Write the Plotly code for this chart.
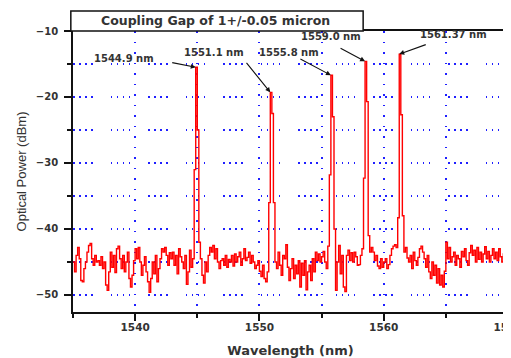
import numpy as np
import plotly.graph_objects as go

# Optical power (dBm), sampled every 0.125 nm from 1535 nm; one row per nm
power_rows = [
    [-45, -46.5, -44, -42.8, -44.5, -47.8, -48, -46],            # 1535
    [-45, -43.5, -42.5, -42.2, -44.5, -45.5, -44, -45],          # 1536
    [-44.8, -45.5, -44.2, -46, -45, -48.5, -49.3, -46.5],        # 1537
    [-43.5, -45.8, -44, -46.6, -43, -42.6, -44.5, -46],          # 1538
    [-44, -46.5, -45, -43.5, -47.5, -48.8, -47, -44.8],          # 1539
    [-43, -44.5, -42.8, -45, -47, -45.5, -44.2, -46.5],          # 1540
    [-48, -49.6, -47.5, -45, -46.8, -44, -48, -46],              # 1541
    [-44.5, -43, -43.5, -42.8, -44, -45.5, -43.6, -44.5],        # 1542
    [-43.5, -45.5, -44, -46.8, -43, -44.2, -45, -46],            # 1543
    [-44, -48.4, -46.5, -43.2, -45.8, -44.5, -31, -15.5],        # 1544
    [-25, -42, -44.5, -47, -48.2, -45, -46.5, -44],              # 1545
    [-42.8, -43.5, -42.5, -44.5, -43, -45, -46, -44.8],          # 1546
    [-44.5, -45.5, -44, -45.8, -44.6, -45, -44, -45.6],          # 1547
    [-43.8, -45, -44.2, -43.5, -45.5, -44.5, -43, -44.8],        # 1548
    [-44.3, -43.5, -45.2, -44, -45, -46, -45.5, -44.8],          # 1549
    [-46.4, -47.2, -45.5, -47.5, -48, -46.5, -36, -19.3],        # 1550
    [-22.5, -36, -45, -46, -43.5, -45.5, -47, -44],              # 1551
    [-44.5, -42.4, -45.8, -47.8, -46, -44.5, -47.5, -45.5],      # 1552
    [-46.8, -44.8, -48.8, -45.2, -47, -44.8, -49.2, -46.5],      # 1553
    [-45.5, -47.8, -44.5, -46.5, -43.5, -44.8, -43.8, -45],      # 1554
    [-44.2, -43.4, -45, -46, -42.6, -31.8, -16.7, -23],          # 1555
    [-40, -49.3, -45, -42.5, -46.8, -44, -48.8, -49.5],          # 1556
    [-44, -43.2, -44.8, -43.6, -45, -43.5, -44.2, -45.5],        # 1557
    [-45.4, -44, -43, -32.3, -14.6, -20.7, -41, -43.5],          # 1558
    [-42.8, -43.5, -44.8, -44, -45.6, -46, -44.5, -45.8],        # 1559
    [-45, -44.5, -46, -45.4, -44, -43, -42.6, -42.4],            # 1560
    [-42.8, -38.3, -13.5, -22.7, -38, -43.5, -42.8, -44.4],      # 1561
    [-45, -44, -46, -43.5, -44.8, -45.5, -44.3, -43],            # 1562
    [-42.6, -43.5, -44.5, -45.8, -44, -46.5, -47.5, -45],        # 1563
    [-47, -45.5, -48.2, -46, -48.5, -47, -48.8, -46.4],          # 1564
    [-42, -44.5, -42.8, -45, -44.2, -43.5, -45.5, -44],          # 1565
    [-44.5, -45.8, -43.4, -44.2, -43, -44.8, -45.5, -43.6],      # 1566
    [-42.5, -44, -43.2, -45, -42.8, -44.6, -43.5, -45],          # 1567
    [-43.8, -42.7, -44.5, -43.4, -45, -44, -43, -44.5],          # 1568
    [-43.5, -44.8, -43, -44.2, -45, -43.8, -44.6, -43.8],        # 1569
    [-44],                                                       # 1570
]
wl_start = 1535.0
wl_step = 0.125

peak_labels = ["1544.9 nm", "1551.1 nm", "1555.8 nm", "1559.0 nm", "1561.37 nm"]
title_text = "Coupling Gap of 1+/-0.05 micron"
x_title = "Wavelength (nm)"
y_title = "Optical Power (dBm)"
x_ticks = [1540, 1550, 1560, 1570]
y_ticks = [-10, -20, -30, -40, -50]

power = np.array([v for row in power_rows for v in row], dtype=float)
wl = wl_start + wl_step * np.arange(len(power))
peak_idx = np.where(power > -20)[0]

TXT = "#333333"
BOLD = dict(family="DejaVu Sans", weight="bold", color=TXT)

fig = go.Figure()
fig.add_trace(go.Scatter(x=wl, y=power, mode="lines", line=dict(color="#ff0000", width=1.4, shape="hv"),
                         showlegend=False, hoverinfo="skip"))

# arrows (tail offsets in px) and labels
arrow_off = [(-25, -5), (-25, -31), (-32, -17), (-26, -14), (28, -10)]
label_pos = [(1539.1, -14.1), (1546.35, -13.2), (1552.4, -13.2), (1555.76, -10.9), (1565.6, -10.6)]
for k, i in enumerate(peak_idx):
    fig.add_annotation(x=wl[i], y=power[i], text="", showarrow=True, ax=arrow_off[k][0], ay=arrow_off[k][1],
                       arrowhead=2, arrowsize=0.9, arrowwidth=1.1, arrowcolor="#111111", standoff=0)
    fig.add_annotation(x=label_pos[k][0], y=label_pos[k][1], text=peak_labels[k], showarrow=False,
                       font=dict(size=10, **BOLD), xanchor="center", yanchor="middle")

# title box
fig.add_shape(type="rect", xref="paper", yref="paper", x0=-0.005, x1=0.667, y0=1.0, y1=1.071,
              line=dict(color="#111111", width=1.5), fillcolor="white", layer="above")
fig.add_annotation(xref="paper", yref="paper", x=0.3276, y=1.036, text=title_text, showarrow=False,
                   font=dict(size=12.5, **BOLD), xanchor="center", yanchor="middle")

grid_y = "1.5px,4.5px,1.5px,4.5px,1.5px,4.5px,1.5px,18px"
grid_x = "1.5px,9px"
# page body has an 8px margin: figure is sized/offset so the plot lands where the reference has it
fig.update_layout(
    width=503, height=350,
    margin=dict(l=65, r=3, t=23, b=46),
    paper_bgcolor="white", plot_bgcolor="white",
    xaxis=dict(range=[1535, 1570], tickvals=x_ticks, ticks="outside", ticklen=7, tickwidth=1.5,
               tickcolor="#111111", showline=True, linewidth=1.8, linecolor="#111111", mirror=True,
               showgrid=True, gridcolor="#1f1fff", gridwidth=1.5, griddash=grid_x, zeroline=False,
               tickfont=dict(size=10.5, **BOLD), automargin=False, ticklabeloverflow="allow",
               ticklabelstandoff=-3,
               minor=dict(dtick=5, tick0=1535, ticks="outside", ticklen=4, tickwidth=1.5, tickcolor="#111111",
                          showgrid=True, gridcolor="#1f1fff", gridwidth=1.5, griddash=grid_x),
               title=dict(text=x_title, font=dict(size=13, **BOLD), standoff=14)),
    yaxis=dict(range=[-52.58, -10], tickvals=y_ticks, ticks="outside", ticklen=7, tickwidth=1.5,
               tickcolor="#111111", showline=True, linewidth=1.8, linecolor="#111111", mirror=True,
               showgrid=True, gridcolor="#1f1fff", gridwidth=1.5, griddash=grid_y, zeroline=False,
               tickfont=dict(size=10, **BOLD), ticklabelstandoff=4, automargin=False,
               minor=dict(dtick=5, tick0=-50, ticks="outside", ticklen=4, tickwidth=1.5, tickcolor="#111111",
                          showgrid=True, gridcolor="#1f1fff", gridwidth=1.5, griddash=grid_y),
               title=dict(text=y_title, font=dict(size=13, family="Liberation Sans", color=TXT), standoff=6)),
)
fig.write_html("out.html")
